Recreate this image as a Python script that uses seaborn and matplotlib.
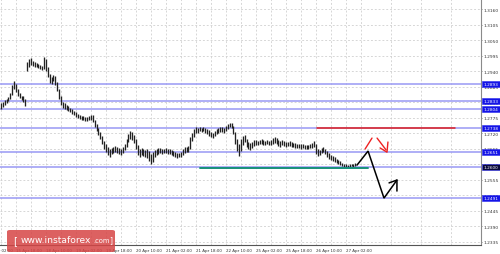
import numpy as np
import matplotlib
matplotlib.use("Agg")
import matplotlib.pyplot as plt
import matplotlib.transforms as mtrans
from matplotlib.patches import Rectangle, FancyBboxPatch
import seaborn as sns

# ---------------- data (hourly bars) ----------------
bar_high = [
    1.2826, 1.2830, 1.2837, 1.2840, 1.2847, 1.2862, 1.2890, 1.2905, 1.2894, 1.2876,
    1.2862, 1.2851, 1.2851, 1.2840, 1.2972, 1.2983, 1.2986, 1.2975, 1.2972, 1.2968,
    1.2965, 1.2961, 1.2958, 1.2989, 1.2983, 1.2954, 1.2929, 1.2918, 1.2925, 1.2922,
    1.2901, 1.2876, 1.2851, 1.2830, 1.2826, 1.2819, 1.2816, 1.2808, 1.2805, 1.2798,
    1.2794, 1.2787, 1.2784, 1.2780, 1.2780, 1.2776, 1.2776, 1.2780, 1.2784, 1.2784,
    1.2766, 1.2752, 1.2738, 1.2723, 1.2709, 1.2691, 1.2681, 1.2670, 1.2663, 1.2667,
    1.2670, 1.2674, 1.2670, 1.2667, 1.2663, 1.2670, 1.2681, 1.2698, 1.2716, 1.2727,
    1.2723, 1.2713, 1.2698, 1.2677, 1.2663, 1.2667, 1.2663, 1.2660, 1.2663, 1.2656,
    1.2645, 1.2652, 1.2660, 1.2663, 1.2667, 1.2667, 1.2663, 1.2663, 1.2667, 1.2663,
    1.2663, 1.2660, 1.2656, 1.2652, 1.2649, 1.2649, 1.2652, 1.2663, 1.2670, 1.2670,
    1.2674, 1.2706, 1.2720, 1.2734, 1.2741, 1.2738, 1.2741, 1.2738, 1.2741, 1.2738,
    1.2734, 1.2731, 1.2723, 1.2720, 1.2727, 1.2734, 1.2738, 1.2741, 1.2741, 1.2738,
    1.2745, 1.2752, 1.2755, 1.2755, 1.2745, 1.2723, 1.2698, 1.2681, 1.2698, 1.2709,
    1.2713, 1.2698, 1.2688, 1.2684, 1.2688, 1.2695, 1.2695, 1.2691, 1.2695, 1.2698,
    1.2695, 1.2691, 1.2695, 1.2691, 1.2695, 1.2702, 1.2706, 1.2702, 1.2695, 1.2691,
    1.2695, 1.2691, 1.2688, 1.2688, 1.2691, 1.2688, 1.2684, 1.2684, 1.2681, 1.2681,
    1.2681, 1.2681, 1.2677, 1.2677, 1.2677, 1.2681, 1.2684, 1.2691, 1.2681, 1.2663,
    1.2660, 1.2667, 1.2670, 1.2663, 1.2656, 1.2649, 1.2642, 1.2638, 1.2635, 1.2628,
    1.2624, 1.2620, 1.2613, 1.2610, 1.2610, 1.2606, 1.2610, 1.2610, 1.2610, 1.2613,
]
bar_low = [
    1.2805, 1.2812, 1.2819, 1.2826, 1.2833, 1.2840, 1.2855, 1.2876, 1.2865, 1.2851,
    1.2844, 1.2837, 1.2830, 1.2816, 1.2940, 1.2954, 1.2961, 1.2958, 1.2954, 1.2954,
    1.2951, 1.2947, 1.2943, 1.2947, 1.2940, 1.2918, 1.2897, 1.2894, 1.2905, 1.2890,
    1.2869, 1.2840, 1.2819, 1.2808, 1.2805, 1.2801, 1.2798, 1.2794, 1.2787, 1.2784,
    1.2776, 1.2773, 1.2769, 1.2766, 1.2766, 1.2762, 1.2762, 1.2766, 1.2766, 1.2759,
    1.2741, 1.2727, 1.2713, 1.2698, 1.2681, 1.2663, 1.2652, 1.2642, 1.2635, 1.2645,
    1.2649, 1.2652, 1.2649, 1.2645, 1.2642, 1.2649, 1.2660, 1.2670, 1.2688, 1.2698,
    1.2695, 1.2684, 1.2663, 1.2642, 1.2635, 1.2642, 1.2638, 1.2635, 1.2631, 1.2620,
    1.2610, 1.2617, 1.2635, 1.2642, 1.2645, 1.2649, 1.2645, 1.2649, 1.2649, 1.2645,
    1.2645, 1.2642, 1.2638, 1.2635, 1.2631, 1.2635, 1.2635, 1.2642, 1.2649, 1.2652,
    1.2652, 1.2663, 1.2691, 1.2706, 1.2720, 1.2720, 1.2727, 1.2723, 1.2727, 1.2720,
    1.2716, 1.2709, 1.2706, 1.2702, 1.2709, 1.2716, 1.2720, 1.2723, 1.2723, 1.2720,
    1.2727, 1.2734, 1.2741, 1.2738, 1.2716, 1.2681, 1.2656, 1.2638, 1.2656, 1.2677,
    1.2688, 1.2670, 1.2663, 1.2660, 1.2667, 1.2674, 1.2677, 1.2677, 1.2681, 1.2681,
    1.2677, 1.2677, 1.2681, 1.2677, 1.2677, 1.2681, 1.2684, 1.2681, 1.2674, 1.2670,
    1.2677, 1.2674, 1.2670, 1.2674, 1.2674, 1.2670, 1.2670, 1.2667, 1.2667, 1.2667,
    1.2663, 1.2667, 1.2663, 1.2663, 1.2663, 1.2667, 1.2667, 1.2670, 1.2645, 1.2638,
    1.2642, 1.2649, 1.2652, 1.2645, 1.2635, 1.2628, 1.2624, 1.2620, 1.2617, 1.2613,
    1.2610, 1.2606, 1.2603, 1.2599, 1.2599, 1.2599, 1.2599, 1.2603, 1.2599, 1.2603,
]

level_prices = [1.2893, 1.2833, 1.2804, 1.2738, 1.2651, 1.2600, 1.2491]
level_labels = ["1.2893", "1.2833", "1.2804", "1.2738", "1.2651", "1.2600", "1.2491"]

ytick_values = [1.2335, 1.2390, 1.2445, 1.2500, 1.2555, 1.2610, 1.2665, 1.2720,
                1.2775, 1.2830, 1.2885, 1.2940, 1.2995, 1.3050, 1.3105, 1.3160]
ytick_labels = ["1.2335", "1.2390", "1.2445", "1.2500", "1.2555", "1.2610", "1.2665", "1.2720",
                "1.2775", "1.2830", "1.2885", "1.2940", "1.2995", "1.3050", "1.3105", "1.3160"]

xtick_bars = [-8, 8, 24, 40, 56, 72, 88, 104, 120, 136, 152, 168, 184]
xtick_labels = ["15 Apr 02:00", "15 Apr 18:00", "18 Apr 10:00", "19 Apr 02:00",
                "19 Apr 18:00", "20 Apr 10:00", "21 Apr 02:00", "21 Apr 18:00",
                "22 Apr 10:00", "25 Apr 02:00", "25 Apr 18:00", "26 Apr 10:00",
                "27 Apr 02:00"]

resistance_price = 1.2737
resistance_from, resistance_to = 168.5, 242.2
support_price = 1.2596
support_from, support_to = 106.2, 195.8

forecast_bars = [189.9, 195.8, 204.3, 211.2]
forecast_prices = [1.2606, 1.2656, 1.2489, 1.2553]
forecast_head_bars = [207.0, 211.2, 211.2]
forecast_head_prices = [1.2543, 1.2553, 1.2514]

alt_seg1_bars, alt_seg1_prices = [194.2, 197.9], [1.2663, 1.2702]
alt_seg2_bars, alt_seg2_prices = [200.6, 205.4], [1.2702, 1.2660]
alt_head_bars, alt_head_prices = [202.2, 205.9, 206.4], [1.2667, 1.2652, 1.2688]

# ---------------- figure ----------------
sns.set_style("white")
plt.rcParams["font.family"] = ["DejaVu Sans"]

W, H = 500, 255
fig = plt.figure(figsize=(W / 100, H / 100), dpi=100)
ax = fig.add_axes([0, 9 / H, 481 / W, 246 / H])

x0_bar = -0.5
x1_bar = 481 / 1.875 - 0.5
y_bot, y_top = 1.23226, 1.31955
ax.set_xlim(x0_bar, x1_bar)
ax.set_ylim(y_bot, y_top)

# grid
grid_kw = dict(color="#cccccc", lw=0.55, ls=(0, (2.5, 2.5)))
ax.set_xticks(xtick_bars[1:])
ax.set_xticks([b - 8 for b in xtick_bars[1:]] + [xtick_bars[-1] + 8 + 16 * k for k in range(5)], minor=True)
ax.set_yticks(ytick_values)
ax.grid(True, which="both", axis="x", **grid_kw)
ax.grid(True, which="major", axis="y", **grid_kw)
ax.set_axisbelow(True)

# horizontal levels
for p in level_prices:
    ax.axhline(p, color="#9c9cf4", lw=1.15, zorder=2)

# bars
idx = np.arange(len(bar_high))
ax.vlines(idx, bar_low, bar_high, color="#222222", lw=0.95, zorder=4)

# support / resistance segments
sns.lineplot(x=[support_from, support_to], y=[support_price, support_price],
             ax=ax, color="#16907a", lw=1.4, zorder=5)
sns.lineplot(x=[resistance_from, resistance_to], y=[resistance_price, resistance_price],
             ax=ax, color="#e01e1e", lw=1.1, zorder=5)

# forecast paths
ax.plot(forecast_bars, forecast_prices, color="black", lw=1.1, zorder=6,
        solid_joinstyle="miter")
ax.plot(forecast_head_bars, forecast_head_prices, color="black", lw=1.1, zorder=6)
for bx, py in [(alt_seg1_bars, alt_seg1_prices), (alt_seg2_bars, alt_seg2_prices),
               (alt_head_bars, alt_head_prices)]:
    ax.plot(bx, py, color="#ee2222", lw=1.0, zorder=6)

# spines / ticks
for s in ["top", "left"]:
    ax.spines[s].set_visible(False)
ax.spines["right"].set_color("#8a8a8a")
ax.spines["right"].set_linewidth(0.8)
ax.spines["bottom"].set_color("#555555")
ax.spines["bottom"].set_linewidth(0.8)

ax.yaxis.tick_right()
ax.set_yticklabels(ytick_labels)
ax.tick_params(axis="y", which="major", direction="out", length=1.0, width=0.5,
               color="#555555", pad=0.5, labelsize=3.15, labelcolor="#333333")
ax.set_xticklabels(xtick_labels[1:])
ax.tick_params(axis="x", which="major", direction="out", length=1.6, width=0.5,
               color="#333333", pad=0.6, labelsize=2.9, labelcolor="#333333")
ax.tick_params(axis="x", which="minor", length=0)
for lab in ax.get_xticklabels():
    lab.set_horizontalalignment("left")
ax.set_xlabel("")
ax.set_ylabel("")
ax.text(xtick_bars[0] + 0.5, -0.012, xtick_labels[0],
        transform=mtrans.blended_transform_factory(ax.transData, ax.transAxes),
        ha="left", va="top", fontsize=2.9, color="#333333", clip_on=False)

# price label boxes on right axis
bt = mtrans.blended_transform_factory(fig.transFigure, ax.transData)
box_h = 6 * (y_top - y_bot) / 246
for p, lab in zip(level_prices, level_labels):
    face = "#0a0a3a" if lab == "1.2600" else "#1414e6"
    ax.add_patch(Rectangle((482 / W, p - box_h / 2), 17.5 / W, box_h, transform=bt,
                           facecolor=face, edgecolor="#2a2af0", lw=0.4,
                           clip_on=False, zorder=10))
    ax.text(490.8 / W, p, lab, transform=bt, ha="center", va="center", fontsize=3.1,
            color="white", clip_on=False, zorder=11)

# watermark
wm = FancyBboxPatch((7 / W, 2 / H), 108 / W, 22 / H, boxstyle="round,pad=0,rounding_size=0.006",
                    transform=fig.transFigure, facecolor="#d64545", edgecolor="none",
                    alpha=0.85, zorder=20)
fig.patches.append(wm)
fig.text(13 / W, 14 / H, "[", fontsize=7, color="white", va="center", ha="left", zorder=21)
fig.text(21 / W, 14 / H, "www.instaforex", fontsize=6.6, color="white", va="center", ha="left", zorder=21)
fig.text(93.5 / W, 13.5 / H, ".com", fontsize=4.8, color="white", va="center", ha="left", zorder=21)
fig.text(109 / W, 14 / H, "]", fontsize=5.5, color="white", va="center", ha="left", zorder=21)

fig.savefig("out.png", dpi=100, facecolor="white")
